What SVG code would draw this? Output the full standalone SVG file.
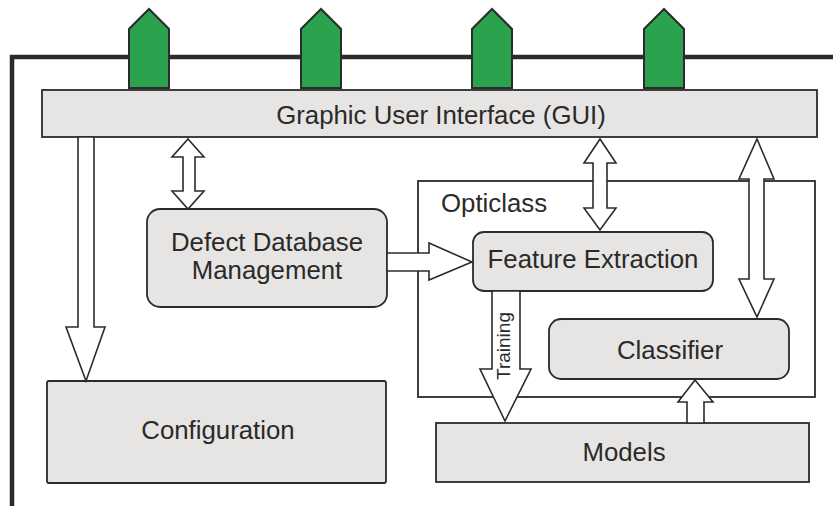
<svg xmlns="http://www.w3.org/2000/svg" width="833" height="506" viewBox="0 0 833 506">
<style>
.box{fill:#e6e5e4;stroke:#2b2b2b;stroke-width:1.8}
.frame{fill:none;stroke:#2b2b2b;stroke-width:1.8}
.arr{fill:#ffffff;stroke:#2b2b2b;stroke-width:1.6;stroke-linejoin:miter}
.grn{fill:#2aa24e;stroke:#2b2b2b;stroke-width:2;stroke-linejoin:miter}
.t{font-family:"Liberation Sans",Arial,sans-serif;font-size:25.8px;fill:#2b2a29}
.ts{font-family:"Liberation Sans",Arial,sans-serif;font-size:19px;fill:#2b2a29}
</style>
<rect width="833" height="506" fill="#ffffff"/>
<path d="M12,506 V57 H833" fill="none" stroke="#2b2b2b" stroke-width="4.5"/>
<g id="ports">
<polygon class="grn" points="129,88 129,29 149,9 169,29 169,88"/>
<polygon class="grn" points="301,88 301,29 321,9 341,29 341,88"/>
<polygon class="grn" points="472,88 472,29 492,9 512,29 512,88"/>
<polygon class="grn" points="644,88 644,29 664,9 684,29 684,88"/>
</g>
<g id="gui">
<rect class="box" x="42" y="90" width="775" height="47"/>
<text class="t" x="441" y="124" text-anchor="middle">Graphic User Interface (GUI)</text>
</g>
<g id="opticlass">
<rect class="frame" x="418" y="181" width="397" height="216"/>
<text class="t" x="441" y="212">Opticlass</text>
</g>
<g id="defectdb">
<rect class="box" x="147" y="209" width="240" height="98" rx="13"/>
<text class="t" x="267" y="251" text-anchor="middle">Defect Database</text>
<text class="t" x="267" y="279" text-anchor="middle">Management</text>
</g>
<g id="featureextraction">
<rect class="box" x="473" y="232" width="240" height="59" rx="11"/>
<text class="t" x="593" y="268" text-anchor="middle">Feature Extraction</text>
</g>
<g id="classifier">
<rect class="box" x="549" y="319" width="240" height="60" rx="12"/>
<text class="t" x="670" y="359" text-anchor="middle">Classifier</text>
</g>
<g id="configuration">
<rect class="box" x="47" y="381" width="339" height="102" rx="2"/>
<text class="t" x="218" y="439" text-anchor="middle">Configuration</text>
</g>
<g id="models">
<rect class="box" x="436" y="423" width="373" height="59"/>
<text class="t" x="624" y="461" text-anchor="middle">Models</text>
</g>
<g id="connectors">
<polygon class="arr" points="78,137 94,137 94,327 105,327 86,381 66,327 78,327"/>
<polygon class="arr" points="188,139 204,157 195,157 195,191 204,191 188,209 172,191 183,191 183,157 172,157"/>
<polygon class="arr" points="600,139 616,163 607,163 607,208 616,208 600,230 584,208 593,208 593,163 584,163"/>
<polygon class="arr" points="757,139 774,179 764,179 764,279 774,279 757,317 739,279 749,279 749,179 739,179"/>
<polygon class="arr" points="387,253 429,253 429,243 472,262 429,280 429,271 387,271"/>
<polygon class="arr" points="492,291 520,291 520,369 531,369 505,421 480,369 492,369"/>
<polygon class="arr" points="687,423 687,402 678,402 695,380 713,402 704,402 704,423"/>
<text class="ts" transform="translate(510,346) rotate(-90)" text-anchor="middle">Training</text>
</g>
</svg>
